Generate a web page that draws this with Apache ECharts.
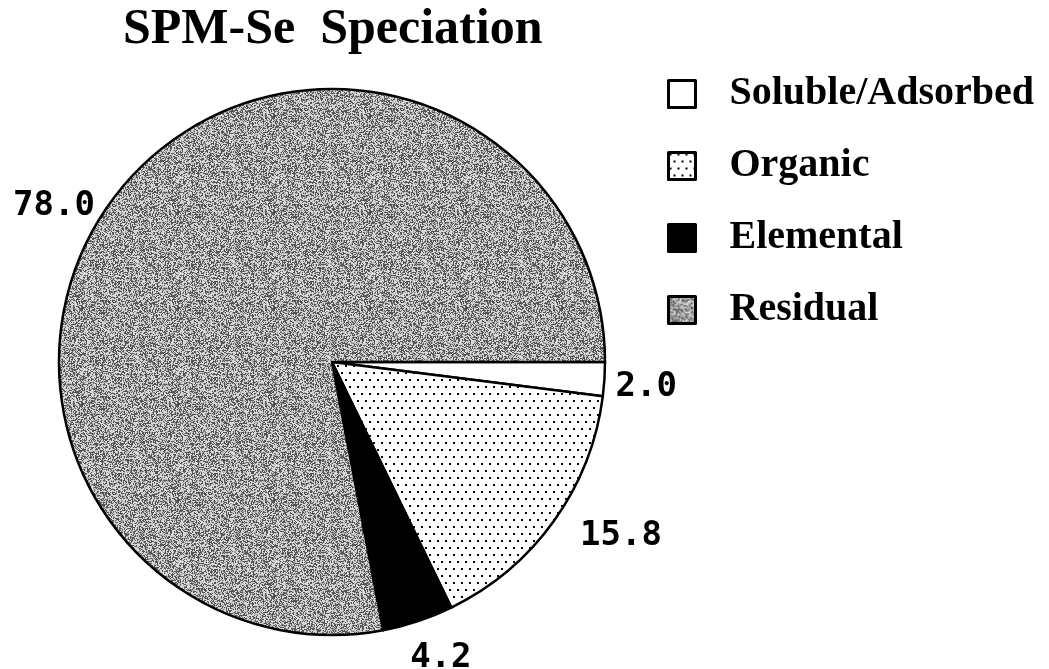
<!DOCTYPE html>
<html>
<head>
<meta charset="utf-8">
<script src="https://cdn.jsdelivr.net/npm/echarts@6/dist/echarts.min.js"></script>
<style>
  html, body { margin: 0; padding: 0; background: #fff; }
  #chart { width: 1049px; height: 669px; }
</style>
</head>
<body>
<div id="chart"></div>
<script>
var categories = ['Soluble/Adsorbed', 'Organic', 'Elemental', 'Residual'];
var values = [2.0, 15.8, 4.2, 78.0];

// nudges for the value labels, [dx, dy]
var labelNudge = [[-4, 7], [13, 9], [-16, 28], [-14, 25]];

// dotted fill for Organic
function dotPattern() {
    var c = document.createElement('canvas');
    c.width = 8; c.height = 14;
    var ctx = c.getContext('2d');
    ctx.fillStyle = '#fff';
    ctx.fillRect(0, 0, 8, 14);
    ctx.fillStyle = '#000';
    ctx.fillRect(1, 1, 2, 2);
    ctx.fillRect(5, 8, 2, 2);
    return c;
}

// grainy grey fill for Residual (fixed hash, not data)
function grainPattern() {
    var n = 96;
    var c = document.createElement('canvas');
    c.width = n; c.height = n;
    var ctx = c.getContext('2d');
    var img = ctx.createImageData(n, n);
    for (var y = 0; y < n; y++) {
        for (var x = 0; x < n; x++) {
            var h = Math.sin(x * 12.9898 + y * 78.233) * 43758.5453;
            h = h - Math.floor(h);
            var v = h < 0.4 ? 85 : (h < 0.55 ? 160 : 215);
            var i = (y * n + x) * 4;
            img.data[i] = v; img.data[i + 1] = v; img.data[i + 2] = v; img.data[i + 3] = 255;
        }
    }
    ctx.putImageData(img, 0, 0);
    return c;
}

var fills = [
    '#ffffff',
    { image: dotPattern(), repeat: 'repeat' },
    '#000000',
    { image: grainPattern(), repeat: 'repeat' }
];

var pieData = [];
for (var i = 0; i < categories.length; i++) {
    pieData.push({
        name: categories[i],
        value: values[i],
        itemStyle: { color: fills[i] }
    });
}

var chart = echarts.init(document.getElementById('chart'));
chart.setOption({
    animation: false,
    backgroundColor: '#fff',
    title: {
        text: 'SPM-Se  Speciation',
        left: 118,
        top: 0,
        textStyle: {
            fontFamily: 'Liberation Serif',
            fontWeight: 'bold',
            fontSize: 50,
            color: '#000'
        }
    },
    legend: {
        orient: 'vertical',
        left: 662,
        top: 68,
        itemWidth: 27,
        itemHeight: 27,
        itemGap: 30,
        icon: 'rect',
        selectedMode: false,
        data: categories,
        itemStyle: { borderColor: '#000', borderWidth: 3 },
        textStyle: {
            fontFamily: 'Liberation Serif',
            fontWeight: 'bold',
            fontSize: 40,
            lineHeight: 42,
            color: '#000',
            padding: [0, 0, 0, 29]
        }
    },
    series: [{
        type: 'pie',
        center: [332, 362],
        radius: 273,
        startAngle: 0,
        clockwise: true,
        avoidLabelOverlap: false,
        silent: true,
        itemStyle: { borderColor: '#000', borderWidth: 2.5 },
        label: {
            show: true,
            position: 'outside',
            formatter: function (p) { return p.value.toFixed(1); },
            fontFamily: 'DejaVu Sans Mono',
            fontWeight: 'bold',
            fontSize: 34,
            color: '#000'
        },
        labelLine: { show: false, length: 10, length2: 0 },
        labelLayout: function (p) {
            return { dx: labelNudge[p.dataIndex][0], dy: labelNudge[p.dataIndex][1] };
        },
        emphasis: { disabled: true },
        data: pieData
    }]
});
</script>
</body>
</html>
